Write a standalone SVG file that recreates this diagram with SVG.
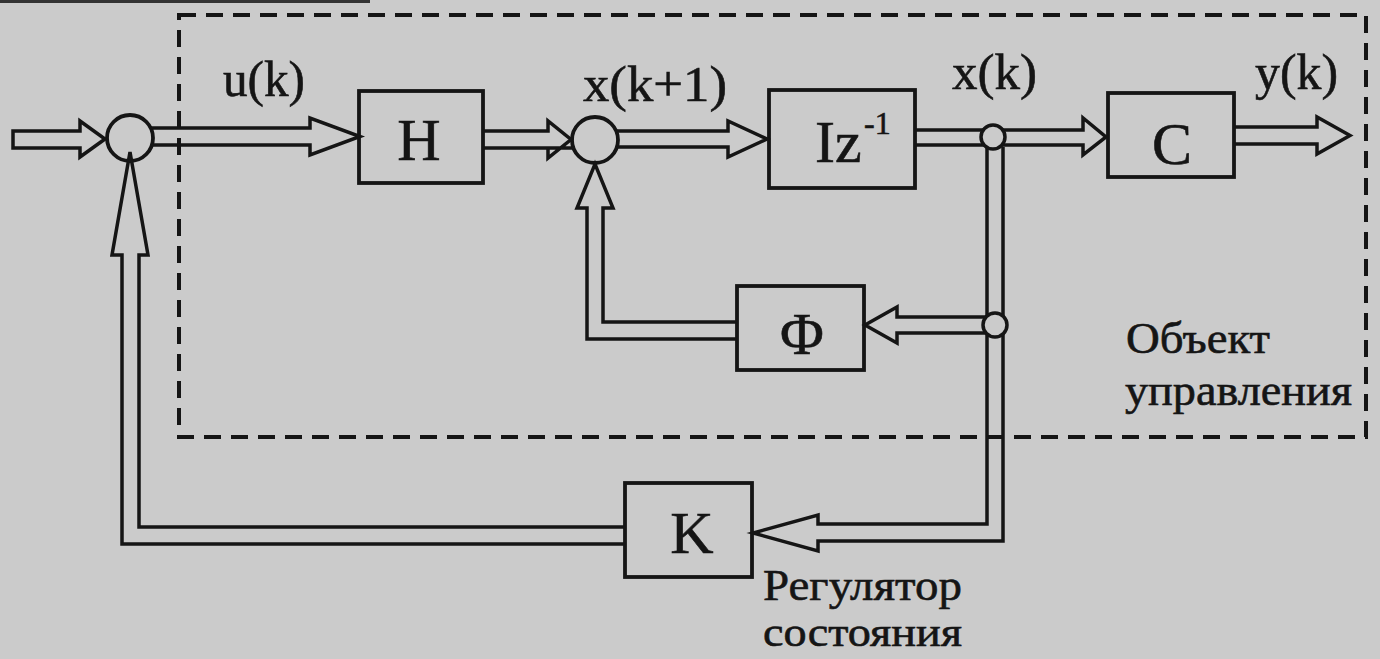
<svg xmlns="http://www.w3.org/2000/svg" width="1380" height="659" viewBox="0 0 1380 659">
<style>
.bg{fill:#cbcbcb}
.box{fill:none;stroke:#151515;stroke-width:3.8}
.tube{fill:none;stroke:#151515;stroke-width:3.5;stroke-linejoin:miter}
.sum{fill:none;stroke:#151515;stroke-width:3.8}
.junc{fill:#cbcbcb;stroke:#151515;stroke-width:3.5}
.dash{fill:none;stroke:#151515;stroke-width:4;stroke-dasharray:17 10}
.lbl{font-family:"Liberation Serif","Times New Roman",serif;fill:#151515;stroke:#151515;stroke-width:0.6}
.sig{font-size:50px}
.blk{font-size:60px;text-anchor:middle}
.cap{font-size:44px}
</style>
<rect class="bg" x="0" y="0" width="1380" height="659"/>
<rect x="0" y="0" width="370" height="3" fill="#333"/>

<g id="plant-boundary">
  <rect class="dash" x="179" y="15" width="1187" height="422"/>
  <text class="lbl cap" x="1126" y="353" textLength="144" lengthAdjust="spacingAndGlyphs">Объект</text>
  <text class="lbl cap" x="1125" y="405" textLength="227" lengthAdjust="spacingAndGlyphs">управления</text>
</g>

<g id="sum1"><circle class="sum" cx="130" cy="138" r="23"/></g>
<g id="sum2"><circle class="sum" cx="595" cy="140" r="23"/></g>

<g id="connectors">
  <path class="tube" d="M105,139 L80,157 L80,148 L13,148 L13,131 L80,131 L80,121 Z"/>
  <path class="tube" d="M151,128 L310,128 L310,118 L360,136.5 L310,155 L310,145 L151,145"/>
  <path class="tube" d="M483,131 L548,131 L548,121 L571,139.5 L548,158 L548,148 L575,148 M483,148 L548,148"/>
  <path class="tube" d="M616,131 L728,131 L728,121 L767,139 L728,157 L728,147 L616,147"/>
  <path class="tube" d="M915,130 L985,130 M915,145 L985,145"/>
  <path class="tube" d="M1001,130 L1083,130 L1083,118 L1106,137 L1083,155 L1083,145 L1001,145"/>
  <path class="tube" d="M1234,127 L1317,127 L1317,117 L1350,135.5 L1317,154 L1317,144 L1234,144"/>
  <path class="tube" d="M987,147 L987,317 M987,333 L987,524 L818,524 L818,515 L753,533 L818,551 L818,541 L1003,541 L1003,147"/>
  <path class="tube" d="M990,317 L897,317 L897,307 L865,325 L897,343 L897,333 L990,333"/>
  <path class="tube" d="M737,322 L603,322 L603,208 L613,208 L595,164 L577,208 L587,208 L587,339 L737,339"/>
  <path class="tube" d="M625,527 L139,527 L139,255 L148,255 L130,152 L112,255 L122,255 L122,544 L625,544"/>
</g>

<g id="junction1"><circle class="junc" cx="993" cy="137" r="12"/></g>
<g id="junction2"><circle class="junc" cx="995" cy="325" r="12"/></g>

<g id="H">
  <rect class="box" x="359" y="91" width="124" height="92"/>
  <text class="lbl blk" x="419" y="160">H</text>
</g>
<g id="Iz">
  <rect class="box" x="769" y="90" width="146" height="98"/>
  <text class="lbl" font-size="60" x="815" y="162">Iz</text>
  <text class="lbl" font-size="32" x="864" y="134">-1</text>
</g>
<g id="C">
  <rect class="box" x="1108" y="93" width="126" height="84"/>
  <text class="lbl blk" x="1172" y="164">C</text>
</g>
<g id="Phi">
  <rect class="box" x="737" y="286" width="127" height="84"/>
  <text class="lbl blk" x="802" y="354">Φ</text>
</g>
<g id="K">
  <rect class="box" x="625" y="483" width="127" height="94"/>
  <text class="lbl blk" x="692" y="553">K</text>
  <text class="lbl cap" x="763" y="600" textLength="199" lengthAdjust="spacingAndGlyphs">Регулятор</text>
  <text class="lbl" font-size="42" x="763" y="646" textLength="199" lengthAdjust="spacingAndGlyphs">состояния</text>
</g>

<g id="signal-labels">
  <text class="lbl sig" x="223" y="96" textLength="82" lengthAdjust="spacingAndGlyphs">u(k)</text>
  <text class="lbl sig" x="583" y="101" textLength="144" lengthAdjust="spacingAndGlyphs">x(k+1)</text>
  <text class="lbl sig" x="952" y="89" textLength="85" lengthAdjust="spacingAndGlyphs">x(k)</text>
  <text class="lbl sig" x="1255" y="89" textLength="83" lengthAdjust="spacingAndGlyphs">y(k)</text>
</g>
</svg>
